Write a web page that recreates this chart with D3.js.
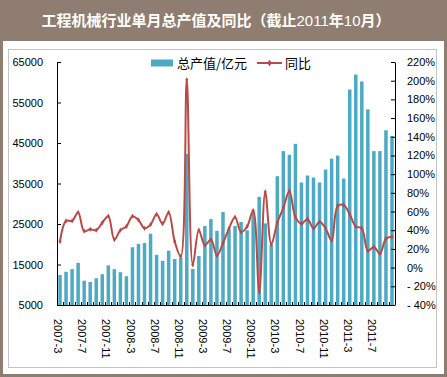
<!DOCTYPE html>
<html>
<head>
<meta charset="utf-8">
<script src="https://cdn.jsdelivr.net/npm/d3@7"></script>
<style>
  body { margin: 0; background: #fff; }
  svg { display: block; }
</style>
</head>
<body>
<svg id="chart" width="447" height="377"></svg>
<script>
const months = [
  "2007-3","2007-4","2007-5","2007-6","2007-7","2007-8","2007-9","2007-10","2007-11","2007-12",
  "2008-1","2008-2","2008-3","2008-4","2008-5","2008-6","2008-7","2008-8","2008-9","2008-10",
  "2008-11","2008-12","2009-1","2009-2","2009-3","2009-4","2009-5","2009-6","2009-7","2009-8",
  "2009-9","2009-10","2009-11","2009-12","2010-1","2010-2","2010-3","2010-4","2010-5","2010-6",
  "2010-7","2010-8","2010-9","2010-10","2010-11","2010-12","2011-1","2011-2","2011-3","2011-4",
  "2011-5","2011-6","2011-7","2011-8","2011-9","2011-10"
];

// 总产值 / 亿元
const output = [
  12400, 13200, 13850, 15400, 11000, 10700, 11600, 12600, 14800, 13850,
  13100, 12100, 19260, 20100, 20300, 22600, 17400, 15900, 18400, 16350,
  16650, 42300, 13900, 17100, 24500, 26200, 23300, 27950, 23700, 24500,
  25500, 23450, 27800, 31700, 25150, 19800, 36800, 43000, 42100, 44800,
  35250, 36970, 36480, 35250, 38440, 41150, 41900, 36230, 58200, 61900,
  60200, 53300, 43000, 43000, 48150, 46700
];

// 同比 / %
const yoy = [
  28, 50, 50, 59, 39, 41, 40, 48, 55, 30,
  40, 44, 55, 51, 42, 46, 57, 47, 59, 28,
  12, 201, 3, 40, 24, 30, 13, 26, 42, 54,
  38, 44, 61, -26, 81, 25, 48, 64, 82, 54,
  47, 52, 42, 49, 42, 29, 66, 67, 57, 44,
  42, 18, 22, 15, 31, 33
];

const leftTicks = [5000, 15000, 25000, 35000, 45000, 55000, 65000];
const rightTicks = [-40, -20, 0, 20, 40, 60, 80, 100, 120, 140, 160, 180, 200, 220];
const xLabels = ["2007-3","2007-7","2007-11","2008-3","2008-7","2008-11","2009-3",
  "2009-7","2009-11","2010-3","2010-7","2010-11","2011-3","2011-7"];

const barColor = "#4eaac2";
const lineColor = "#b84b48";
const frameColor = "#8e7d70";
const numFont = "'Liberation Sans', Arial, sans-serif";
const cjkFont = "'Noto Sans CJK SC', sans-serif";

const svg = d3.select("#chart");
const W = 447, H = 377;
const plot = { left: 57, right: 395, top: 62, bottom: 305 };

// frame + title bar
svg.append("rect").attr("x", 1.5).attr("y", 0).attr("width", W - 3).attr("height", H - 1.5)
  .attr("fill", "#fff").attr("stroke", frameColor).attr("stroke-width", 3);
svg.append("rect").attr("x", 0).attr("y", 0).attr("width", W).attr("height", 41)
  .attr("fill", frameColor);
svg.append("rect").attr("x", 8.5).attr("y", 49.5).attr("width", 428).attr("height", 318)
  .attr("fill", "#fff").attr("stroke", "#c4c4c4").attr("stroke-width", 1);

const title = svg.append("text")
  .attr("x", 216).attr("y", 26)
  .attr("text-anchor", "middle")
  .attr("fill", "#fff")
  .attr("font-family", cjkFont)
  .attr("font-size", 15)
  .attr("font-weight", "bold");
title.append("tspan").text("工程机械行业单月总产值及同比（截止");
title.append("tspan").attr("font-family", numFont).attr("font-weight", "normal").text("2011");
title.append("tspan").text("年");
title.append("tspan").attr("font-family", numFont).attr("font-weight", "normal").text("10");
title.append("tspan").text("月）");

// scales
const x = d3.scaleBand()
  .domain(d3.range(months.length))
  .range([plot.left, plot.right])
  .paddingInner(0.42)
  .paddingOuter(0.21);

const yL = d3.scaleLinear().domain([5000, 65000]).range([plot.bottom, plot.top]);
const yR = d3.scaleLinear().domain([-40, 220]).range([plot.bottom, plot.top]);

// bars
svg.append("g")
  .selectAll("rect")
  .data(output)
  .join("rect")
  .attr("x", (d, i) => x(i))
  .attr("y", d => yL(d))
  .attr("width", x.bandwidth())
  .attr("height", d => yL(5000) - yL(d))
  .attr("fill", barColor);

// yoy line, smoothed like the original
const line = d3.line()
  .x((d, i) => x(i) + x.bandwidth() / 2)
  .y(d => yR(d))
  .curve(d3.curveCatmullRom);

svg.append("path")
  .datum(yoy)
  .attr("fill", "none")
  .attr("stroke", lineColor)
  .attr("stroke-width", 2)
  .attr("stroke-linejoin", "round")
  .attr("d", line);

svg.append("g")
  .selectAll("path")
  .data(yoy)
  .join("path")
  .attr("transform", (d, i) => `translate(${x(i) + x.bandwidth() / 2},${yR(d)})`)
  .attr("d", d3.symbol(d3.symbolDiamond, 8))
  .attr("fill", lineColor);

// left axis
const gL = svg.append("g")
  .attr("transform", `translate(${plot.left},0)`)
  .call(d3.axisLeft(yL).tickValues(leftTicks).tickSizeInner(-4).tickSizeOuter(0).tickPadding(14).tickFormat(d3.format("d")));

// right axis
const gR = svg.append("g")
  .attr("transform", `translate(${plot.right},0)`)
  .call(d3.axisRight(yR).tickValues(rightTicks).tickSizeInner(-4).tickSizeOuter(0).tickPadding(12)
    .tickFormat(d => d < 0 ? "- " + (-d) + "%" : d + "%"));

[gL, gR].forEach(g => {
  g.selectAll("text").attr("font-family", numFont).attr("font-size", 11).attr("fill", "#000");
  g.selectAll("line, path").attr("stroke", "#000");
});

// x axis: baseline, month ticks pointing up, rotated labels
const gX = svg.append("g");
gX.append("line")
  .attr("x1", plot.left).attr("x2", plot.right)
  .attr("y1", plot.bottom + 0.5).attr("y2", plot.bottom + 0.5)
  .attr("stroke", "#000");
gX.selectAll(".tick")
  .data(d3.range(months.length + 1))
  .join("line")
  .attr("class", "tick")
  .attr("x1", i => Math.round(plot.left + i * x.step()) + 0.5)
  .attr("x2", i => Math.round(plot.left + i * x.step()) + 0.5)
  .attr("y1", plot.bottom)
  .attr("y2", plot.bottom - 3)
  .attr("stroke", "#000");

gX.selectAll("text")
  .data(xLabels)
  .join("text")
  .attr("transform", d => {
    const cx = x(months.indexOf(d)) + x.bandwidth() / 2 - 2;
    return `translate(${cx},319) rotate(90)`;
  })
  .attr("dy", "0.35em")
  .attr("text-anchor", "start")
  .attr("font-family", numFont)
  .attr("font-size", 11)
  .attr("fill", "#000")
  .text(d => d);

// legend
const lg = svg.append("g");
lg.append("rect").attr("x", 151).attr("y", 59.5).attr("width", 22).attr("height", 7).attr("fill", barColor);
lg.append("text").attr("x", 177).attr("y", 67.5)
  .attr("font-family", cjkFont).attr("font-size", 13).attr("fill", "#000")
  .text("总产值/亿元");
lg.append("line").attr("x1", 257).attr("x2", 282).attr("y1", 63).attr("y2", 63)
  .attr("stroke", lineColor).attr("stroke-width", 2);
lg.append("path").attr("transform", "translate(269.5,63)")
  .attr("d", d3.symbol(d3.symbolDiamond, 14)).attr("fill", lineColor);
lg.append("text").attr("x", 285).attr("y", 67.5)
  .attr("font-family", cjkFont).attr("font-size", 13).attr("fill", "#000")
  .text("同比");
</script>
</body>
</html>
